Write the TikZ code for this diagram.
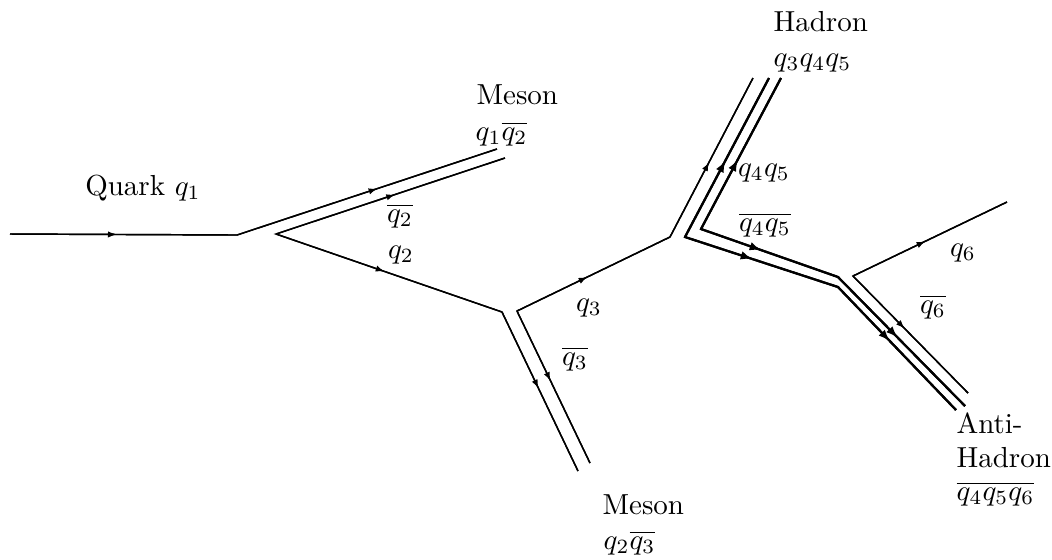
\documentclass[tikz,border=0pt]{standalone}
\usetikzlibrary{decorations.markings,arrows.meta}
\begin{document}
\begin{tikzpicture}[x=0.345pt,y=-0.345pt,
  qline/.style={line width=0.5pt,line join=miter,line cap=butt},
  qthick/.style={line width=0.75pt,line join=miter,line cap=butt},
  marr/.style={postaction={decorate,decoration={markings,mark=at position #1 with {\arrow{Latex[length=3pt,width=2.2pt]}}}}},
  barr/.style={postaction={decorate,decoration={markings,mark=at position #1 with {\arrow{Latex[length=4pt,width=3pt]}}}}},
  lbl/.style={inner sep=0pt,font=\fontsize{10}{12}\selectfont},
  lblw/.style={lbl,anchor=west}]
\useasboundingbox (0,0) rectangle (1052,559);
% vertices
\coordinate (a1) at (10,234);
\coordinate (a2) at (237,235);
\coordinate (a3) at (497,149);
\coordinate (b1) at (505,158);
\coordinate (b2) at (276,234);
\coordinate (b3) at (502,312);
\coordinate (b4) at (578,471);
\coordinate (c1) at (590,463);
\coordinate (c2) at (517,311);
\coordinate (c3) at (670,237);
\coordinate (c4) at (753,78);
\coordinate (d1) at (769,78);
\coordinate (d2) at (685,237);
\coordinate (d3) at (838,287);
\coordinate (d4) at (956,410);
\coordinate (e1) at (781,78);
\coordinate (e2) at (701,229);
\coordinate (e3) at (838,277);
\coordinate (e4) at (965,406);
\coordinate (f1) at (1007,202);
\coordinate (f2) at (853,276);
\coordinate (f3) at (968,393);
% quark lines
\draw[qline] (a1) -- (a2) -- (a3);
\draw[qline,marr=0.47] (a1) -- (a2);
\draw[qline,marr=0.54] (a2) -- (a3);
\draw[qline] (b1) -- (b2) -- (b3) -- (b4);
\draw[qline,marr=0.52] (b2) -- (b1);
\draw[qline,marr=0.48] (b2) -- (b3);
\draw[qline,marr=0.48] (b3) -- (b4);
\draw[qline] (c1) -- (c2) -- (c3) -- (c4);
\draw[qline,marr=0.46] (c2) -- (c1);
\draw[qline,marr=0.46] (c2) -- (c3);
\draw[qline,marr=0.47] (c3) -- (c4);
\draw[qthick] (d1) -- (d2) -- (d3) -- (d4);
\draw[qthick,barr=0.48] (d2) -- (d1);
\draw[qthick,barr=0.44] (d2) -- (d3);
\draw[qthick,barr=0.44] (d3) -- (d4);
\draw[qthick] (e1) -- (e2) -- (e3) -- (e4);
\draw[qthick,barr=0.46] (e2) -- (e1);
\draw[qthick,barr=0.44] (e2) -- (e3);
\draw[qthick,barr=0.47] (e3) -- (e4);
\draw[qline] (f1) -- (f2) -- (f3);
\draw[qline,marr=0.47] (f2) -- (f1);
\draw[qline,marr=0.45] (f2) -- (f3);
% labels
\node[lbl] (quark) at (143,188) {Quark $q_1$};
\node[lblw] (meson1) at (476,95) {Meson};
\node[lblw] (meson1q) at (475,134) {$q_1\overline{q_2}$};
\node[lbl] (q2b) at (400,216) {$\overline{q_2}$};
\node[lbl] (q2) at (401,255) {$q_2$};
\node[lblw] (hadron) at (773,22) {Hadron};
\node[lblw] (hadronq) at (773,63) {$q_3q_4q_5$};
\node[lbl] (q45) at (764,173) {$q_4q_5$};
\node[lbl] (q45b) at (765,225) {$\overline{q_4q_5}$};
\node[lbl] (q3) at (589,308) {$q_3$};
\node[lbl] (q3b) at (575,359) {$\overline{q_3}$};
\node[lbl] (q6) at (963,253) {$q_6$};
\node[lbl] (q6b) at (933,307) {$\overline{q_6}$};
\node[lblw] (anti) at (956,423) {Anti-};
\node[lblw] (antih) at (956,458) {Hadron};
\node[lblw] (antiq) at (956,494) {$\overline{q_4q_5q_6}$};
\node[lblw] (meson2) at (602,505) {Meson};
\node[lblw] (meson2q) at (603,543) {$q_2\overline{q_3}$};
\end{tikzpicture}
\end{document}
